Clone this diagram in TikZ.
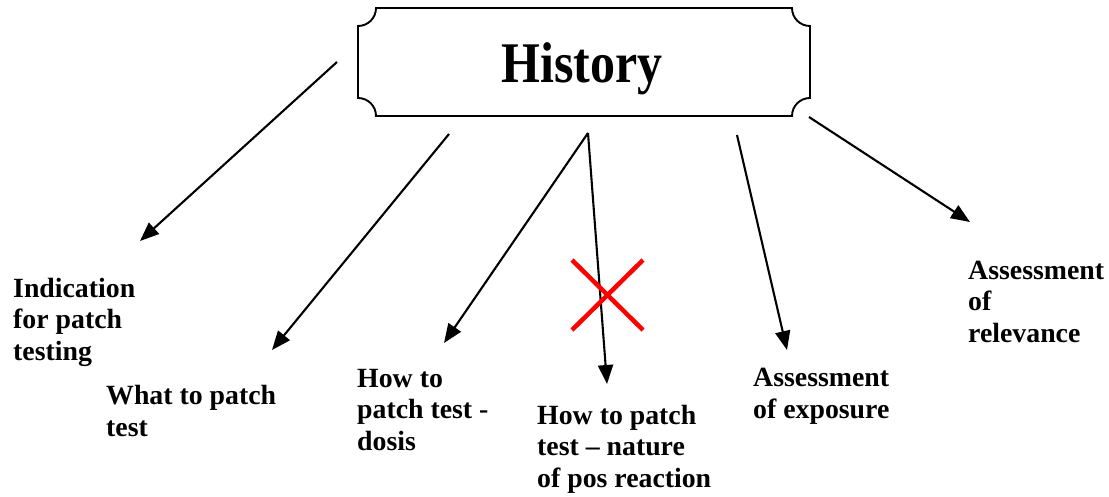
\documentclass[tikz,border=0pt]{standalone}
\usepackage{fontspec}
\setmainfont{Liberation Serif}
\usetikzlibrary{arrows.meta}
\begin{document}
\begin{tikzpicture}[x=1pt,y=-1pt,
  lbl/.style={font=\fontsize{27.8}{31.5}\selectfont\bfseries, align=left, inner sep=0pt, anchor=base west},
  arr/.style={line width=2.1pt, -{Triangle[length=19pt,width=15pt]}},
  boxline/.style={line width=1.9pt},
  redx/.style={line width=4.5pt, red}]
\useasboundingbox (0,0) rectangle (1109,496);
% plaque box
\draw[boxline] (376,8) -- (792,8) .. controls (792,18) and (800,26) .. (810,26)
  -- (810,98) .. controls (800,98) and (792,106) .. (792,116)
  -- (376,116) .. controls (376,106) and (368,98) .. (358,98)
  -- (358,26) .. controls (368,26) and (376,18) .. (376,8) -- cycle;
\node[inner sep=0pt, anchor=base, font=\fontsize{50}{60}\selectfont\bfseries] (hist) at (582,82) {\scalebox{1}[1.15]{History}};
% labels (anchor = baseline of the last line)
\node[lbl] (ind) at (13,360) {Indication\\for patch\\testing};
\node[lbl] (what) at (106,436) {What to patch\\test};
\node[lbl] (dosis) at (357,450) {How to\\patch test -\\dosis};
\node[lbl] (nature) at (537,487) {How to patch\\test – nature\\of pos reaction};
\node[lbl] (expo) at (753,418) {Assessment\\of exposure};
\node[lbl] (rel) at (968,342) {Assessment\\of\\relevance};
% arrow end points
\coordinate (s1) at (337,62);  \coordinate (e1) at (140,241);
\coordinate (s2) at (449,134); \coordinate (e2) at (272,350);
\coordinate (s3) at (588,133); \coordinate (e3) at (444,343);
\coordinate (s4) at (588,133); \coordinate (e4) at (607,384);
\coordinate (s5) at (737,135); \coordinate (e5) at (787,350);
\coordinate (s6) at (809,117); \coordinate (e6) at (970,222);
\draw[arr] (s1) -- (e1);
\draw[arr] (s2) -- (e2);
\draw[arr] (s3) -- (e3);
\draw[arr] (s4) -- (e4);
\draw[arr] (s5) -- (e5);
\draw[arr] (s6) -- (e6);
% red cross
\draw[redx] (572,260) -- (643,330);
\draw[redx] (572,330) -- (643,260);
\end{tikzpicture}
\end{document}
